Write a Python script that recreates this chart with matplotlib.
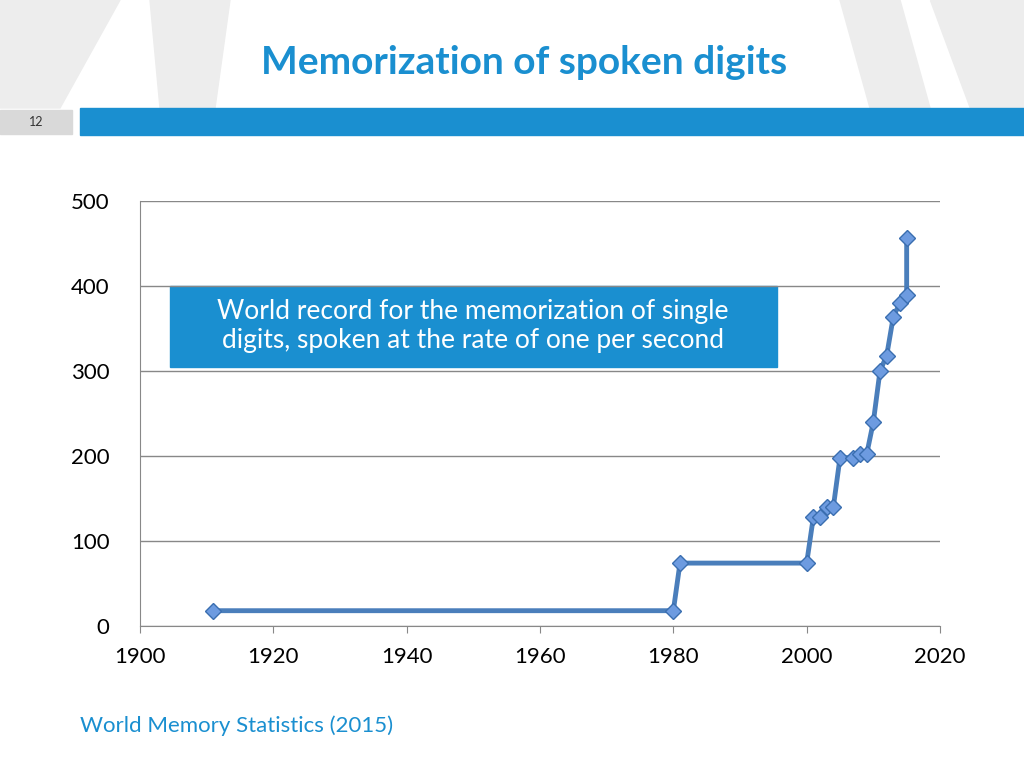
import matplotlib
matplotlib.use("Agg")
import matplotlib.pyplot as plt
from matplotlib.patches import Rectangle, Polygon

years = [1911, 1980, 1981, 2000, 2001, 2002, 2003, 2004, 2005, 2007, 2008, 2009, 2010, 2011, 2012, 2013, 2014, 2015, 2015]
digits = [18, 18, 74, 74, 128, 128, 140, 140, 198, 198, 202, 202, 240, 300, 318, 364, 380, 390, 456]
x_ticks = [1900, 1920, 1940, 1960, 1980, 2000, 2020]
y_ticks = [0, 100, 200, 300, 400, 500]

FONT = "Lato"
W, H = 1024, 768
fig = plt.figure(figsize=(W/100, H/100), dpi=100)
bg = fig.add_axes([0, 0, 1, 1])
bg.set_xlim(0, W); bg.set_ylim(H, 0); bg.axis("off")
# faint decorative shapes in the header only
for pts in [[(0, 0), (120, 0), (60, 108), (0, 108)], [(150, 0), (230, 0), (215, 108), (160, 108)],
            [(840, 0), (900, 0), (930, 108), (870, 108)], [(930, 0), (1024, 0), (1024, 108), (970, 108)]]:
    bg.add_patch(Polygon(pts, color="#ededed", zorder=0))
bg.add_patch(Rectangle((80, 108), 944, 27, color="#1a8fd0", zorder=1))
bg.add_patch(Rectangle((0, 110), 72, 24, color="#d9d9d9", zorder=1))
bg.text(36, 122, "12", ha="center", va="center", fontsize=9, color="#333333", family=FONT)
bg.text(524, 62, "Memorization of spoken digits", ha="center", va="center", fontsize=28,
        color="#1a8fd0", fontweight="bold", family=FONT)
bg.text(80, 726, "World Memory Statistics (2015)", ha="left", va="center", fontsize=16,
        color="#1a8fd0", family=FONT)

ax = fig.add_axes([140/W, 1-626/H, 800/W, 425/H])
ax.plot(years, digits, color="#4a7ebb", lw=3.5, marker="D", markersize=8,
        markerfacecolor="#6d9be0", markeredgecolor="#3a6eb0", markeredgewidth=1, zorder=3)
ax.set_xlim(1900, 2020); ax.set_ylim(0, 500)
ax.set_xticks(x_ticks); ax.set_yticks(y_ticks)
ax.grid(axis="y", color="#888888", lw=1)
for s in ["top", "right"]:
    ax.spines[s].set_visible(False)
ax.spines["left"].set_color("#888888"); ax.spines["bottom"].set_color("#888888")
ax.tick_params(axis="y", length=0, labelsize=16, pad=22)
ax.tick_params(axis="x", length=5, color="#888888", labelsize=16, pad=10)
for lab in ax.get_xticklabels() + ax.get_yticklabels():
    lab.set_family(FONT)
ax.set_facecolor("none")

bg.add_patch(Rectangle((170, 286), 607, 81, color="#1a8fd0", zorder=5))
bg.text(473, 326, "World record for the memorization of single\ndigits, spoken at the rate of one per second",
        ha="center", va="center", fontsize=19, color="white", family=FONT, linespacing=1.2, zorder=6)
fig.savefig("out.png", dpi=100)
